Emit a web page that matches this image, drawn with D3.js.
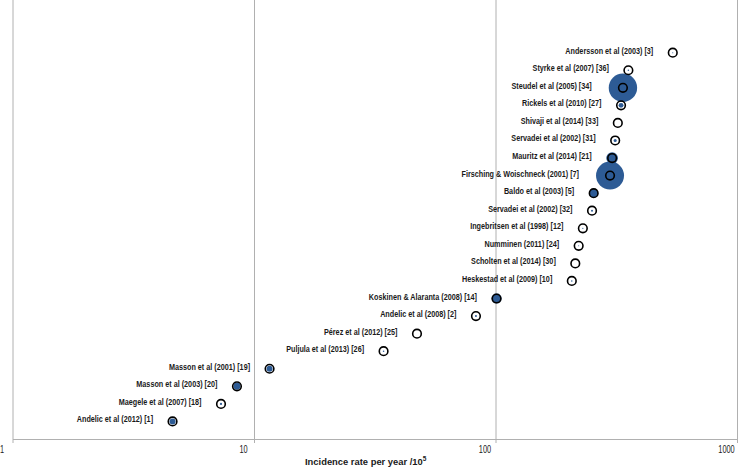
<!DOCTYPE html>
<html><head><meta charset="utf-8">
<script src="https://cdn.jsdelivr.net/npm/d3@7"></script>
<style>body{margin:0;background:#fff}svg{display:block}</style>
</head><body><svg id="c" width="739" height="472"></svg>
<script>
const studies = ["Andersson et al (2003) [3]","Styrke et al (2007) [36]","Steudel et al (2005) [34]","Rickels et al (2010) [27]","Shivaji et al (2014) [33]","Servadei et al (2002) [31]","Mauritz et al (2014) [21]","Firsching & Woischneck (2001) [7]","Baldo et al (2003) [5]","Servadei et al (2002) [32]","Ingebritsen et al (1998) [12]","Numminen (2011) [24]","Scholten et al (2014) [30]","Heskestad et al (2009) [10]","Koskinen & Alaranta (2008) [14]","Andelic et al (2008) [2]","Pérez et al (2012) [25]","Puljula et al (2013) [26]","Masson et al (2001) [19]","Masson et al (2003) [20]","Maegele et al (2007) [18]","Andelic et al (2012) [1]"];
const incidence = [542,355,337,331,321,313,304,298,255,251,230,221,214,207,101,83,47.3,34.4,11.6,8.5,7.3,4.6];
const weight = [0.3,0.6,200,6,0,2.3,34,195,20,1,0.4,0.25,0,0.6,25,1,0,0.6,9,12,1.2,9];
const xTicks = [1,10,100,1000];
const xTitle = "Incidence rate per year /10";
const xTitleSup = "5";

const W=739,H=472;
const svg=d3.select("#c");
svg.append("rect").attr("width",W).attr("height",H).attr("fill","#fff");
const FONT="'Liberation Sans',Arial,sans-serif";
const x=d3.scaleLog().domain([1,1000]).range([12.5,737]);
const y=d3.scaleLinear().domain([0,25]).range([439,0]);
const r=d3.scaleSqrt().domain([0,d3.max(weight)]).range([0,14.2]);
const n=studies.length;
const data=studies.map((s,i)=>({s,v:incidence[i],w:weight[i],pos:n-i}));

// grid
const grid=svg.append("g").attr("transform","translate(0,439)")
  .call(d3.axisBottom(x).tickValues(xTicks).tickSize(-439).tickFormat(""));
grid.select(".domain").remove();
grid.selectAll("line").attr("stroke","#b0b0b0").attr("stroke-width",1);
// axis
const ax=svg.append("g").attr("transform","translate(0,439)")
  .call(d3.axisBottom(x).tickValues(xTicks).tickSize(4).tickSizeOuter(0).tickFormat(d3.format("d")));
ax.attr("font-size",null).attr("font-family",null);
ax.select(".domain").attr("stroke","#b0b0b0").attr("stroke-width",1.2);
ax.selectAll("line").attr("stroke","#b0b0b0");
ax.selectAll("text").style("font-family",FONT).style("font-size","10px").attr("fill","#222")
  .attr("y",14.5).attr("dy",0).attr("transform","translate(-11,0) scale(0.74,1)");

const pts=svg.append("g");
pts.selectAll("circle.b").data(data).enter().append("circle")
  .attr("cx",d=>x(d.v)).attr("cy",d=>y(d.pos)).attr("r",d=>r(d.w)).attr("fill","#2d5b95");
pts.selectAll("circle.o").data(data).enter().append("circle")
  .attr("cx",d=>x(d.v)).attr("cy",d=>y(d.pos)).attr("r",4.3).attr("fill","none").attr("stroke","#000").attr("stroke-width",1.6);
pts.selectAll("text").data(data).enter().append("text")
  .attr("x",d=>x(d.v)-Math.max(5,r(d.w))-(r(d.w)>8?17:14.5)).attr("y",d=>y(d.pos)+1)
  .attr("text-anchor","end").attr("font-family",FONT).attr("font-weight","bold")
  .attr("font-size",8.5).attr("fill","#1a1a1a").text(d=>d.s)
  .each(function(){const w=this.getComputedTextLength();d3.select(this).attr("textLength",w*0.85).attr("lengthAdjust","spacingAndGlyphs");});

const t=svg.append("text").attr("x",305).attr("y",465).attr("font-family",FONT).attr("font-weight","bold").attr("fill","#1a1a1a").attr("font-size",9.4);
t.append("tspan").text(xTitle);
t.append("tspan").attr("dy",-4).attr("font-size",6.5).text(xTitleSup);
</script></body></html>
